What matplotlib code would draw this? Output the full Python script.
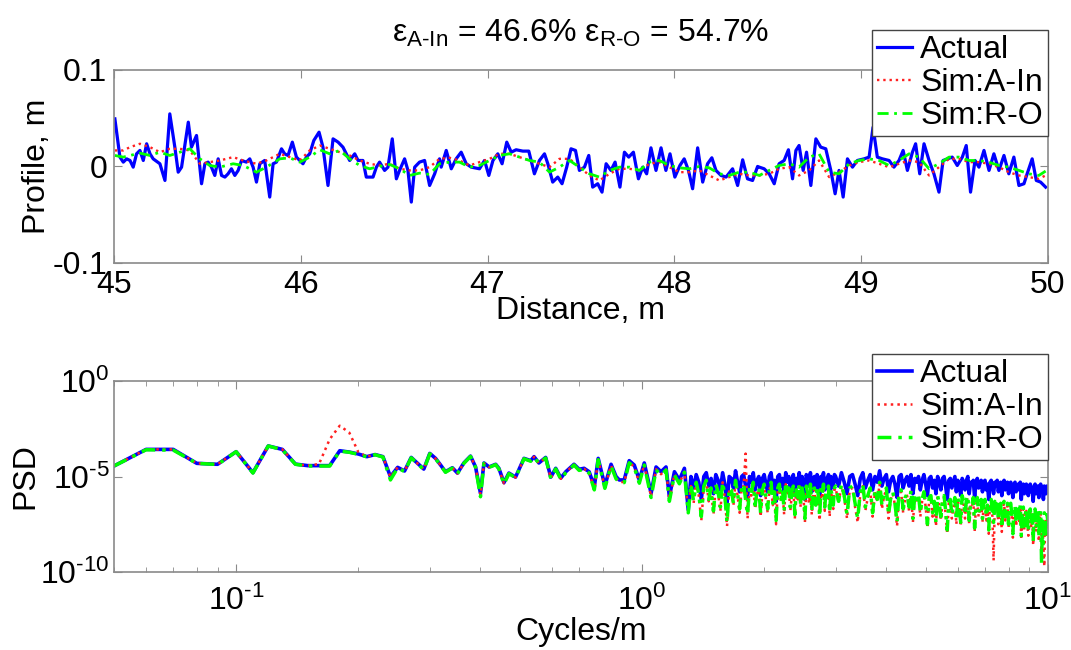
import numpy as np
import matplotlib.pyplot as plt
from matplotlib.ticker import NullLocator

plt.rcParams['font.family'] = ['Liberation Sans', 'DejaVu Sans']
plt.rcParams['mathtext.fontset'] = 'custom'
plt.rcParams['mathtext.rm'] = 'Liberation Sans'
plt.rcParams['mathtext.it'] = 'Liberation Sans:italic'
plt.rcParams['font.size'] = 23

# ---- top panel: road profile (m) vs distance (m) ----
dist_actual = [
    45.005, 45.032, 45.050, 45.068, 45.086, 45.103, 45.121, 45.139, 45.157, 45.175,
    45.193, 45.210, 45.246, 45.273, 45.299, 45.326, 45.344, 45.362, 45.398, 45.415,
    45.442, 45.469, 45.487, 45.504, 45.522, 45.540, 45.558, 45.576, 45.594, 45.611,
    45.629, 45.647, 45.665, 45.683, 45.709, 45.727, 45.745, 45.763, 45.781, 45.807,
    45.834, 45.852, 45.870, 45.897, 45.914, 45.932, 45.955, 45.977, 45.995, 46.012,
    46.030, 46.048, 46.070, 46.098, 46.119, 46.146, 46.173, 46.200, 46.226, 46.262,
    46.289, 46.307, 46.333, 46.351, 46.387, 46.405, 46.422, 46.449, 46.467, 46.490,
    46.512, 46.529, 46.556, 46.574, 46.592, 46.610, 46.636, 46.663, 46.690, 46.717,
    46.743,
    46.752, 46.779, 46.806, 46.832, 46.859, 46.886, 46.913, 46.957, 46.984, 47.007,
    47.029, 47.055, 47.078, 47.103, 47.127, 47.153, 47.189, 47.221, 47.251, 47.278,
    47.305, 47.323, 47.349, 47.376, 47.399, 47.424, 47.447, 47.471, 47.492, 47.519,
    47.542, 47.563, 47.590, 47.613, 47.635, 47.661, 47.683, 47.709, 47.733, 47.756,
    47.781, 47.808, 47.831, 47.852, 47.875, 47.902, 47.929, 47.955, 47.977, 48.003,
    48.030, 48.053, 48.076, 48.098, 48.125, 48.152, 48.178, 48.201, 48.223, 48.250,
    48.277, 48.312, 48.339, 48.366, 48.392, 48.419, 48.446,
    48.455, 48.481, 48.508, 48.535, 48.561, 48.588, 48.611, 48.633, 48.651, 48.668,
    48.690, 48.708, 48.731, 48.758, 48.784, 48.811, 48.838, 48.861, 48.882, 48.904,
    48.927, 48.954, 48.980, 49.016, 49.043, 49.064, 49.087, 49.114, 49.150, 49.176,
    49.203, 49.225, 49.248, 49.275, 49.292, 49.314, 49.337, 49.364, 49.390, 49.417,
    49.439, 49.462, 49.488, 49.515, 49.542, 49.563, 49.586, 49.610, 49.631, 49.658,
    49.685, 49.711, 49.738, 49.765, 49.791, 49.818, 49.845, 49.872, 49.889, 49.916,
    49.938, 49.961, 49.988,
]
prof_actual = [
    0.0493, 0.0097, 0.0045, 0.0079, 0.0062, -0.0007, 0.0131, 0.0166, 0.0062, 0.0235,
    0.0131, 0.0079, 0.0028, -0.0145, 0.0545, 0.0200, -0.0059, -0.0007, 0.0459, 0.0200,
    0.0321, -0.0179, 0.0028, 0.0045, -0.0007, -0.0093, 0.0079, -0.0093, -0.0110, -0.0076,
    -0.0024, -0.0093, -0.0041, 0.0062, 0.0045, 0.0079, -0.0007, -0.0162, 0.0028, 0.0062,
    -0.0317, 0.0028, 0.0045, 0.0183, 0.0131, 0.0114, 0.0252, 0.0097, 0.0062, 0.0028,
    0.0097, 0.0131, 0.0269, 0.0355, 0.0200, -0.0197, 0.0286, 0.0252, 0.0200, 0.0062,
    0.0131, 0.0062, 0.0062, -0.0110, -0.0110, -0.0007, 0.0045, -0.0041, -0.0007, 0.0286,
    -0.0128, -0.0041, 0.0079, -0.0041, -0.0369, -0.0007, 0.0045, 0.0062, -0.0197, -0.0076,
    0.0079,
    -0.0007, 0.0166, -0.0024, 0.0079, 0.0148, 0.0028, -0.0007, -0.0024, 0.0062, -0.0093,
    0.0062, 0.0131, 0.0028, 0.0252, 0.0148, 0.0173, 0.0159, 0.0159, -0.0076, 0.0062,
    0.0131, 0.0028, -0.0162, -0.0110, -0.0179, -0.0007, 0.0183, 0.0166, -0.0041, -0.0007,
    0.0114, -0.0214, -0.0179, -0.0266, 0.0028, -0.0041, 0.0045, -0.0214, 0.0148, 0.0097,
    0.0148, -0.0128, -0.0007, -0.0076, 0.0193, -0.0041, 0.0193, -0.0041, 0.0131, -0.0110,
    0.0010, 0.0079, -0.0041, -0.0231, 0.0193, -0.0162, 0.0028, 0.0090, -0.0041, -0.0093,
    -0.0110, -0.0024, -0.0197, 0.0069, -0.0128, -0.0145, 0.0000,
    -0.0007, -0.0024, -0.0076, -0.0179, 0.0028, 0.0062, 0.0173, -0.0128, 0.0166, 0.0217,
    -0.0041, 0.0148, -0.0197, 0.0286, 0.0200, 0.0183, -0.0041, -0.0283, -0.0041, -0.0317,
    0.0079, -0.0007, 0.0062, 0.0079, 0.0097, 0.0407, 0.0097, 0.0079, 0.0062, -0.0007,
    0.0062, 0.0166, -0.0041, 0.0148, 0.0235, -0.0076, 0.0235, 0.0062, -0.0076, -0.0266,
    0.0062, 0.0079, 0.0097, 0.0010, 0.0097, 0.0217, -0.0266, 0.0062, -0.0007, 0.0166,
    -0.0041, 0.0131, -0.0041, 0.0114, -0.0076, 0.0097, -0.0197, -0.0179, -0.0076, 0.0079,
    -0.0145, -0.0162, -0.0214,
]

dist_sim = [
    45.005, 45.050, 45.086, 45.139, 45.193, 45.246, 45.299, 45.353, 45.406, 45.460,
    45.513, 45.567, 45.638, 45.692, 45.763, 45.816, 45.888, 45.941, 45.995, 46.048,
    46.102, 46.155, 46.209, 46.262, 46.316, 46.369, 46.422, 46.476, 46.529, 46.583,
    46.636, 46.690, 46.743,
    46.797, 46.850, 46.904, 46.957, 47.011, 47.064, 47.118, 47.171, 47.225, 47.278,
    47.332, 47.385, 47.439, 47.492, 47.546, 47.599, 47.653, 47.706, 47.760, 47.813,
    47.867, 47.920, 47.974, 48.027, 48.080, 48.134, 48.187, 48.241, 48.294, 48.348,
    48.401,
    48.455, 48.508, 48.561, 48.615, 48.668, 48.722, 48.775, 48.829, 48.882, 48.936,
    48.989, 49.043, 49.096, 49.150, 49.203, 49.257, 49.310, 49.364, 49.417, 49.471,
    49.524, 49.578, 49.631, 49.684, 49.738, 49.791, 49.845, 49.898, 49.952, 49.988,
]
prof_ain = [
    0.0166, 0.0166, 0.0200, 0.0235, 0.0200, 0.0148, 0.0183, 0.0183, 0.0166, 0.0028,
    0.0045, 0.0062, 0.0097, 0.0062, 0.0028, 0.0062, 0.0131, 0.0097, 0.0062, 0.0166,
    0.0217, 0.0183, 0.0148, 0.0114, 0.0062, 0.0028, 0.0010, 0.0028, -0.0024, -0.0041,
    -0.0041, -0.0007, 0.0079,
    0.0090, 0.0062, 0.0010, 0.0045, 0.0079, 0.0131, 0.0131, 0.0097, 0.0062, 0.0028,
    -0.0007, 0.0079, 0.0079, -0.0007, -0.0093, -0.0145, -0.0076, -0.0024, -0.0024, -0.0041,
    0.0028, 0.0045, -0.0007, -0.0059, -0.0059, -0.0041, -0.0093, -0.0145, -0.0110, -0.0076,
    -0.0093,
    -0.0093, -0.0076, -0.0024, -0.0007, -0.0093, -0.0041, 0.0062, -0.0110, -0.0059, 0.0010,
    0.0045, 0.0062, 0.0028, -0.0007, 0.0028, 0.0062, 0.0045, -0.0093, -0.0007, 0.0079,
    0.0079, 0.0045, 0.0045, 0.0028, -0.0007, -0.0059, -0.0093, -0.0110, -0.0128, -0.0093,
]
prof_ro = [
    0.0114, 0.0097, 0.0114, 0.0138, 0.0114, 0.0148, 0.0114, 0.0148, 0.0183, 0.0079,
    0.0010, -0.0007, 0.0028, 0.0010, -0.0059, -0.0007, 0.0079, 0.0090, 0.0045, 0.0097,
    0.0173, 0.0131, 0.0166, 0.0079, 0.0010, -0.0024, 0.0000, 0.0021, -0.0024, -0.0093,
    -0.0069, -0.0083, 0.0028,
    0.0045, 0.0045, -0.0007, 0.0010, 0.0062, 0.0114, 0.0131, 0.0097, 0.0062, 0.0045,
    -0.0059, -0.0007, 0.0062, -0.0007, -0.0076, -0.0110, -0.0041, -0.0007, -0.0007, -0.0041,
    0.0045, 0.0062, 0.0010, -0.0014, -0.0024, 0.0000, -0.0014, -0.0076, -0.0093, -0.0059,
    -0.0059,
    -0.0093, -0.0041, 0.0010, 0.0028, -0.0007, 0.0097, 0.0131, -0.0059, -0.0076, 0.0028,
    0.0062, 0.0079, 0.0062, 0.0010, 0.0062, 0.0131, 0.0097, -0.0024, 0.0028, 0.0097,
    0.0097, 0.0062, 0.0062, 0.0045, 0.0010, -0.0007, -0.0041, -0.0076, -0.0093, -0.0048,
]

# ---- bottom panel: PSD, stored as log10 values ----
freq_low = [0.05, 0.06, 0.07, 0.08, 0.09, 0.10, 0.11, 0.12, 0.13, 0.14,
            0.15, 0.16, 0.17, 0.18, 0.19, 0.20, 0.21, 0.22, 0.23, 0.24,
            0.25, 0.26, 0.27, 0.28, 0.29, 0.30, 0.31]
act_low = [-4.45, -3.58, -3.58, -4.31, -4.36, -3.70, -4.80, -3.40, -3.58, -4.35,
           -4.43, -4.43, -4.43, -3.65, -3.72, -3.82, -3.96, -3.85, -3.96, -5.01,
           -4.52, -4.71, -4.00, -4.31, -4.61, -3.79, -4.05]
ain_low = [-4.45, -3.58, -3.58, -4.31, -4.36, -3.70, -4.80, -3.40, -3.58, -4.35,
           -4.43, -4.35, -3.05, -2.34, -2.70, -3.72, -3.96, -3.85, -3.96, -5.03,
           -4.52, -4.72, -4.00, -4.32, -4.62, -3.80, -4.06]
ro_low = [-4.45, -3.60, -3.62, -4.31, -4.37, -3.70, -4.82, -3.40, -3.60, -4.36,
          -4.45, -4.45, -4.45, -3.67, -3.73, -3.84, -3.97, -3.86, -3.98, -5.18,
          -4.55, -4.74, -4.02, -4.33, -4.64, -3.81, -4.07]

freq_mid = [0.319, 0.328, 0.341, 0.351, 0.364, 0.378, 0.389, 0.400, 0.408, 0.420,
            0.436, 0.444, 0.457, 0.470, 0.488, 0.512, 0.532, 0.542, 0.557, 0.579,
            0.596, 0.613, 0.631, 0.649, 0.680, 0.700, 0.720, 0.741, 0.763, 0.780,
            0.810, 0.839, 0.863, 0.879, 0.904, 0.930, 0.957, 0.985, 1.013, 1.053,
            1.083, 1.114, 1.146, 1.168, 1.202, 1.236, 1.272]
act_mid = [-4.40, -4.75, -4.54, -4.82, -4.29, -3.93, -4.50, -5.88, -4.29, -4.50,
           -4.36, -4.57, -5.32, -4.82, -5.03, -4.05, -4.17, -3.96, -4.29, -4.00,
           -5.03, -4.57, -5.08, -4.75, -4.36, -4.62, -4.57, -4.75, -5.53, -4.05,
           -5.48, -4.36, -5.00, -5.18, -5.18, -4.17, -4.40, -5.18, -4.29, -5.88,
           -4.50, -4.75, -4.50, -6.06, -4.75, -5.18, -4.57]
ain_mid = [-4.41, -4.77, -4.55, -4.84, -4.30, -3.94, -4.51, -5.95, -4.30, -4.51,
           -4.37, -4.59, -5.36, -4.84, -5.05, -4.06, -4.19, -3.97, -4.30, -4.02,
           -5.08, -4.59, -5.12, -4.78, -4.38, -4.66, -4.60, -4.80, -5.65, -4.10,
           -5.58, -4.42, -5.10, -5.27, -5.30, -4.25, -4.50, -5.32, -4.37, -6.05,
           -4.62, -4.88, -4.63, -6.25, -4.88, -5.35, -4.75]
ro_mid = [-4.42, -4.78, -4.56, -4.85, -4.31, -3.95, -4.52, -6.06, -4.31, -4.52,
          -4.38, -4.60, -5.40, -4.85, -5.06, -4.07, -4.20, -3.98, -4.31, -4.03,
          -5.10, -4.60, -5.15, -4.80, -4.40, -4.68, -4.62, -4.82, -5.70, -4.12,
          -5.62, -4.45, -5.12, -5.30, -5.32, -4.28, -4.52, -5.35, -4.40, -6.10,
          -4.65, -4.92, -4.66, -6.30, -4.92, -5.38, -4.78]

# dense part, frequency bins 1.30..2.98 step 0.02 and 3.00..10.00 step 0.05
freq_hf_a = np.arange(1.30, 2.99, 0.02)
freq_hf_b = np.arange(3.00, 10.001, 0.05)
act_hf_a = [-6.75,
    -5.0, -5.6, -4.9, -5.3, -6.2, -5.0, -4.8, -5.5, -5.1, -5.9, -4.9, -5.2, -5.7, -4.8, -5.4, -6.4, -5.0, -5.1, -5.6, -4.7,
    -5.3, -5.8, -5.0, -4.9, -5.5, -6.1, -5.0, -5.3, -4.8, -5.7, -5.2, -5.0, -6.0, -5.1, -4.9, -5.4, -5.8, -5.0, -4.8, -5.6,
    -5.2, -6.3, -5.0, -4.9, -5.5, -5.1, -5.9, -4.8, -5.3, -5.0, -5.7, -5.2, -4.9, -6.0, -5.1, -5.4, -4.8, -5.6, -5.0, -5.3,
    -6.2, -4.9, -5.2, -5.5, -4.8, -5.8, -5.1, -5.0, -5.6, -4.9, -5.3, -6.1, -5.0, -5.2, -4.8, -5.7, -5.1, -5.4, -4.9, -5.9,
    -5.0, -5.3, -5.6, -4.9]
ain_hf_a = [-6.85,
    -5.5, -6.4, -5.3, -6.0, -7.3, -5.6, -5.2, -6.3, -5.7, -7.0, -5.5, -5.9, -6.8, -5.3, -6.1, -7.6, -5.7, -5.8, -6.5, -5.3,
    -6.0, -6.9, -5.6, -5.5, -3.8, -7.2, -5.7, -6.0, -5.4, -6.7, -5.9, -5.7, -7.1, -5.8, -5.5, -6.2, -6.9, -5.7, -5.4, -6.5,
    -5.9, -7.5, -5.7, -5.5, -6.3, -5.8, -7.0, -5.4, -6.0, -5.7, -6.8, -5.9, -5.6, -7.2, -5.8, -6.2, -5.5, -6.6, -5.7, -6.1,
    -7.4, -5.6, -6.0, -6.4, -5.5, -7.0, -5.8, -5.7, -6.6, -5.6, -6.1, -7.3, -5.7, -6.0, -5.5, -6.8, -5.9, -6.2, -5.6, -7.1,
    -5.8, -6.1, -6.7, -5.7]
ro_hf_a = [-6.90,
    -5.4, -6.3, -5.3, -5.9, -7.1, -5.5, -5.2, -6.2, -5.6, -6.8, -5.4, -5.8, -6.6, -5.3, -6.0, -7.4, -5.6, -5.7, -6.4, -5.2,
    -5.9, -6.7, -5.5, -5.4, -6.2, -7.0, -5.6, -5.9, -5.3, -6.5, -5.8, -5.6, -6.9, -5.7, -5.4, -6.1, -6.7, -5.6, -5.3, -6.4,
    -5.8, -7.3, -5.6, -5.4, -6.2, -5.7, -6.8, -5.3, -5.9, -5.6, -6.6, -5.8, -5.5, -7.0, -5.7, -6.1, -5.4, -6.5, -5.6, -6.0,
    -7.2, -5.5, -5.9, -6.3, -5.4, -6.8, -5.7, -5.6, -6.5, -5.5, -6.0, -7.1, -5.6, -5.9, -5.4, -6.6, -5.8, -6.1, -5.5, -6.9,
    -5.7, -6.0, -6.5, -5.6]
act_hf_b = [
    -5.0, -5.5, -4.8, -5.3, -5.9, -5.0, -4.9, -5.4, -6.0, -5.1, -4.8, -5.6, -5.2, -4.9, -5.7, -5.0, -5.3, -4.7, -5.5, -5.1,
    -4.9, -5.8, -5.2, -5.0, -5.4, -6.1, -5.0, -4.9, -5.6, -5.2, -5.0, -5.5, -4.9, -5.9, -5.1, -5.3, -5.0, -5.7, -5.2, -4.9,
    -5.4, -6.0, -5.1, -5.0, -5.6, -5.2, -5.9, -5.0, -5.3, -5.7, -5.1, -5.0, -5.5, -6.2, -5.2, -5.1, -5.6, -5.3, -5.0, -5.8,
    -5.2, -5.5, -6.0, -5.1, -5.3, -5.7, -5.2, -5.0, -5.9, -5.3, -5.4, -5.2, -6.1, -5.3, -5.1, -5.6, -5.4, -5.2, -5.8, -5.3,
    -5.2, -5.7, -5.4, -6.2, -5.3, -5.2, -5.6, -5.9, -5.3, -5.4, -5.2, -5.8, -5.5, -5.3, -6.0, -5.4, -5.2, -5.7, -5.5, -5.3,
    -5.9, -5.4, -5.3, -5.6, -6.1, -5.4, -5.3, -5.8, -5.5, -5.4, -5.7, -5.3, -6.2, -5.5, -5.4, -5.9, -5.6, -5.4, -5.7, -6.0,
    -5.5, -5.4, -5.8, -5.6, -6.3, -5.5, -5.4, -5.9, -5.6, -5.5, -6.1, -5.6, -5.4, -5.8, -5.7, -6.2, -5.5, -5.6, -5.9, -5.5,
    -5.7]
ain_hf_b = [
    -5.6, -6.4, -5.5, -6.1, -7.2, -5.7, -5.6, -6.6, -7.4, -5.9, -5.5, -6.8, -6.1, -5.7, -7.1, -5.8, -6.3, -5.4, -6.7, -6.0,
    -5.7, -7.2, -6.2, -5.9, -6.5, -7.6, -5.9, -5.8, -6.9, -6.2, -6.0, -6.8, -5.8, -7.4, -6.1, -6.4, -6.0, -7.1, -6.3, -5.9,
    -6.6, -7.7, -6.2, -6.1, -7.1, -6.4, -7.6, -6.1, -6.5, -7.3, -6.3, -6.1, -7.0, -8.0, -6.4, -6.3, -7.2, -6.6, -6.2, -7.5,
    -6.2, -6.8, -7.6, -6.1, -6.4, -7.2, -6.3, -6.1, -7.5, -6.5, -6.6, -6.2, -7.9, -6.5, -6.2, -7.1, -6.7, -6.3, -7.4, -6.5,
    -6.3, -7.3, -6.6, -8.0, -6.4, -6.3, -7.1, -9.4, -6.4, -6.7, -6.3, -7.5, -6.8, -6.5, -7.9, -6.6, -6.4, -7.3, -6.9, -6.5,
    -7.7, -6.6, -6.5, -7.2, -8.2, -6.7, -6.6, -7.6, -7.0, -6.7, -7.4, -6.6, -8.3, -6.9, -6.7, -7.8, -7.1, -6.8, -7.5, -8.1,
    -6.9, -6.8, -7.7, -7.1, -8.6, -7.0, -6.8, -7.9, -7.2, -7.0, -8.4, -7.2, -6.9, -9.3, -7.3, -8.7, -9.7, -7.2, -8.2, -7.1,
    -7.4]
ro_hf_b = [
    -5.5, -6.3, -5.4, -6.0, -7.0, -5.6, -5.5, -6.4, -7.2, -5.8, -5.4, -6.6, -6.0, -5.6, -6.9, -5.7, -6.2, -5.3, -6.5, -5.9,
    -5.6, -7.0, -6.1, -5.8, -6.4, -7.4, -5.8, -5.7, -6.7, -6.1, -5.9, -6.6, -5.7, -7.2, -6.0, -6.3, -5.9, -6.9, -6.2, -5.8,
    -6.5, -7.5, -6.1, -6.0, -6.9, -6.3, -7.4, -6.0, -6.4, -7.1, -6.2, -6.0, -6.8, -7.8, -6.3, -6.2, -7.0, -6.5, -6.1, -7.3,
    -6.1, -6.6, -7.4, -6.0, -6.3, -7.0, -6.2, -6.0, -7.3, -6.4, -6.5, -6.1, -7.7, -6.4, -6.1, -6.9, -6.6, -6.2, -7.2, -6.4,
    -6.2, -7.1, -6.5, -7.8, -6.3, -6.2, -6.9, -7.4, -6.3, -6.6, -6.2, -7.3, -6.7, -6.4, -7.7, -6.5, -6.3, -7.1, -6.8, -6.4,
    -7.5, -6.5, -6.4, -7.0, -8.0, -6.6, -6.5, -7.4, -6.9, -6.6, -7.2, -6.5, -8.1, -6.8, -6.6, -7.6, -7.0, -6.7, -7.3, -7.9,
    -6.8, -6.7, -7.5, -7.0, -8.4, -6.9, -6.7, -7.7, -7.1, -6.9, -8.2, -7.1, -6.8, -9.6, -7.2, -8.5, -6.9, -7.1, -8.0, -7.0,
    -7.3]

freq = np.concatenate([freq_low, freq_mid, freq_hf_a, freq_hf_b])
psd_act = 10.0 ** np.concatenate([act_low, act_mid, act_hf_a, act_hf_b])
psd_ain = 10.0 ** np.concatenate([ain_low, ain_mid, ain_hf_a, ain_hf_b])
psd_ro = 10.0 ** np.concatenate([ro_low, ro_mid, ro_hf_a, ro_hf_b])

psd_ticks = [1e-10, 1e-5, 1]
psd_labels = [r'$\mathregular{10^{\text{-}10}}$', r'$\mathregular{10^{\text{-}5}}$',
              r'$\mathregular{10^{0}}$']
freq_ticks = [0.1, 1, 10]
freq_labels = [r'$\mathregular{10^{\text{-}1}}$', r'$\mathregular{10^{0}}$',
               r'$\mathregular{10^{1}}$']

blue = '#0000ff'
red = '#ff2020'
green = '#00ff00'
dashdot = (0, (4, 2, 1, 2))
gray = '#8a8a8a'

fig = plt.figure(figsize=(10.71, 6.5), dpi=100)
ax1 = fig.add_axes([0.1064, 0.5954, 0.872, 0.297])
ax2 = fig.add_axes([0.1064, 0.12, 0.872, 0.2938])

ax1.plot(dist_actual, prof_actual, color=blue, lw=2.3, label='Actual')
ax1.plot(dist_sim, prof_ain, color=red, lw=1.7, ls=':', label='Sim:A-In')
ax1.plot(dist_sim, prof_ro, color=green, lw=2.0, ls=dashdot, label='Sim:R-O')
ax1.set_xlim(45, 50)
ax1.set_ylim(-0.1, 0.1)
ax1.set_yticks([-0.1, 0, 0.1])
ax1.set_yticklabels(['-0.1', '0', '0.1'])
ax1.set_xlabel('Distance, m', labelpad=-3)
ax1.set_ylabel('Profile, m')
ax1.set_title(r'ε$_{\mathregular{A\text{-}In}}$ = 46.6% '
              r'ε$_{\mathregular{R\text{-}O}}$ = 54.7%', fontsize=23, pad=20)

ax2.loglog(freq, psd_act, color=blue, lw=2.6, label='Actual')
ax2.loglog(freq, psd_ain, color=red, lw=1.8, ls=':', label='Sim:A-In')
ax2.loglog(freq, psd_ro, color=green, lw=2.5, ls=dashdot, label='Sim:R-O')
ax2.set_xlim(0.05, 10)
ax2.set_ylim(1e-10, 1)
ax2.set_yticks(psd_ticks)
ax2.set_yticklabels(psd_labels)
ax2.yaxis.set_minor_locator(NullLocator())
ax2.set_xticks(freq_ticks)
ax2.set_xticklabels(freq_labels)
ax2.set_xlabel('Cycles/m', labelpad=0)
ax2.set_ylabel('PSD')

for ax, top in ((ax1, 1.207), (ax2, 1.141)):
    for s in ax.spines.values():
        s.set_color(gray)
        s.set_linewidth(1.2)
    ax.tick_params(which='both', direction='in', top=True, right=True,
                   color=gray, labelsize=23, pad=5)
    ax.tick_params(which='major', length=6)
    ax.tick_params(which='minor', length=3.5)
    leg = ax.legend(loc='upper right', bbox_to_anchor=(1.0, top), fancybox=False,
                    framealpha=1, edgecolor='#444444', borderpad=0.15,
                    labelspacing=0.1, handlelength=1.1, handletextpad=0.25,
                    borderaxespad=0, fontsize=23)
    leg.get_frame().set_linewidth(1.0)
ax1.yaxis.set_label_coords(-0.066, 0.5)
ax2.yaxis.set_label_coords(-0.079, 0.5)
ax2.tick_params(axis='y', which='both', pad=3)
ax2.tick_params(axis='x', which='both', pad=10)
ax2.xaxis.set_minor_formatter(plt.NullFormatter())

fig.savefig('out.png', dpi=100)
